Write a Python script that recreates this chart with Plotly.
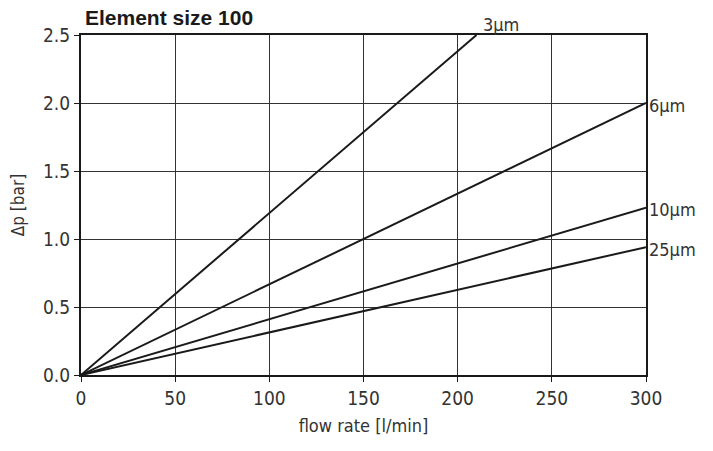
import plotly.graph_objects as go

grades = ["3µm", "6µm", "10µm", "25µm"]
flow_start = [0, 0, 0, 0]
dp_start = [0.0, 0.0, 0.0, 0.0]
flow_end = [210, 300, 300, 300]
dp_end = [2.5, 2.0, 1.23, 0.94]

x_ticks = [0, 50, 100, 150, 200, 250, 300]
y_ticks = [0.0, 0.5, 1.0, 1.5, 2.0, 2.5]

FONT = "DejaVu Sans Condensed, Liberation Sans Narrow, sans-serif"
INK = "#333333"

fig = go.Figure()
for name, x0, y0, x1, y1 in zip(grades, flow_start, dp_start, flow_end, dp_end):
    fig.add_trace(go.Scatter(x=[x0, x1], y=[y0, y1], mode="lines", name=name,
                             line=dict(color="#1a1a1a", width=2), showlegend=False))
    if y1 >= 2.5:
        fig.add_annotation(x=x1, y=y1, text=name, showarrow=False, xanchor="left",
                           yanchor="bottom", xshift=4, yshift=-2,
                           font=dict(family=FONT, size=18, color=INK))
    else:
        fig.add_annotation(x=x1, y=y1, text=name, showarrow=False, xanchor="left",
                           yanchor="middle", xshift=1, yshift=-2,
                           font=dict(family=FONT, size=18, color=INK))

# page body has an 8px margin, so the margins are shifted to compensate
fig.update_layout(
    width=713, height=451,
    margin=dict(l=73, r=75, t=27, b=84, autoexpand=False),
    paper_bgcolor="white", plot_bgcolor="white",
    font=dict(family=FONT, size=19, color=INK),
    title=dict(text="<b>Element size 100</b>", x=0.108, xanchor="left", y=0.994, yanchor="top",
               font=dict(family="Liberation Sans, Arial, sans-serif", size=21, color="#1a1a1a")),
)
fig.update_xaxes(range=[0, 300], tickvals=x_ticks, ticktext=[str(v) for v in x_ticks],
                 showgrid=True, gridcolor="#333333", gridwidth=1,
                 showline=True, linecolor="#1a1a1a", linewidth=2, mirror=True,
                 ticks="outside", ticklen=5, tickcolor="#1a1a1a", automargin=False,
                 title=dict(text="flow rate [l/min]", standoff=12, font=dict(size=18)),
                 zeroline=False)
fig.update_yaxes(range=[0, 2.5], tickvals=y_ticks, ticktext=[f"{v:.1f}" for v in y_ticks],
                 showgrid=True, gridcolor="#333333", gridwidth=1,
                 showline=True, linecolor="#1a1a1a", linewidth=2, mirror=True,
                 ticks="outside", ticklen=5, tickcolor="#1a1a1a", automargin=False,
                 title=dict(text="Δp [bar]", standoff=16, font=dict(size=17)),
                 zeroline=False)

fig.write_html("out.html")
